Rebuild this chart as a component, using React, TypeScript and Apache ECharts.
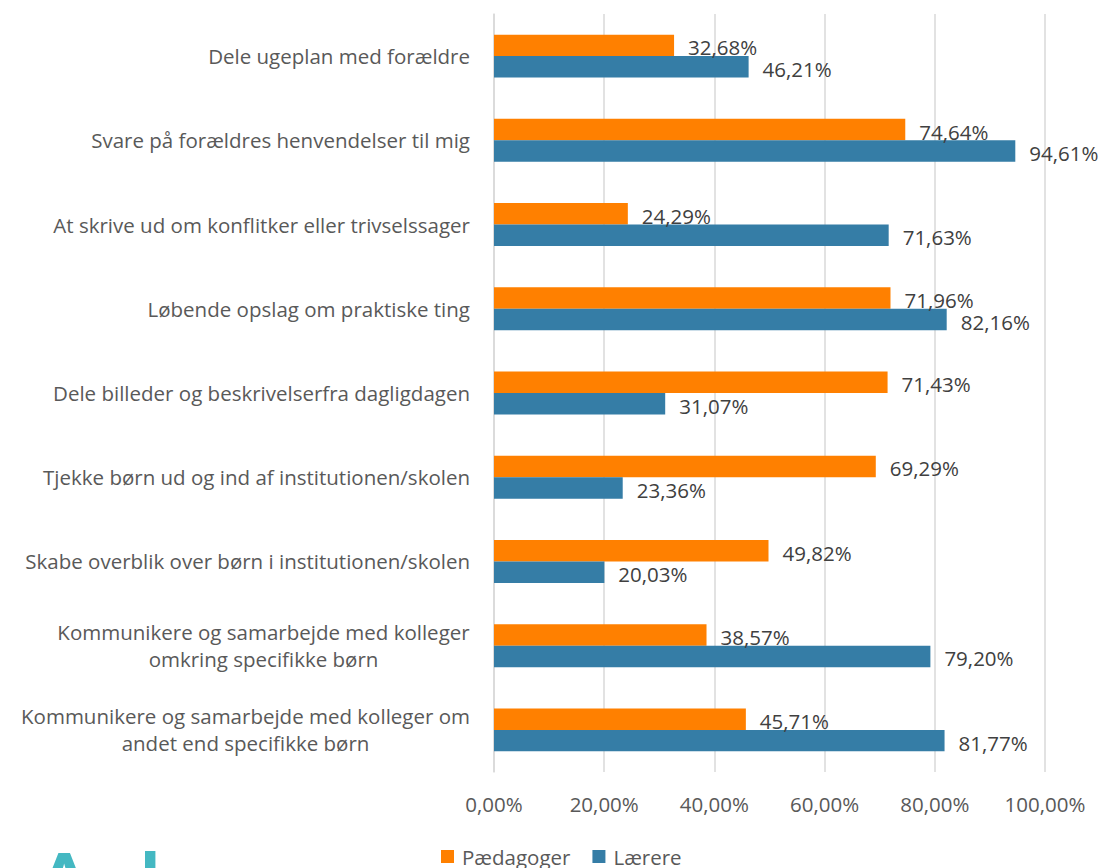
import React, { useEffect, useRef } from "react";
import * as echarts from "echarts";

const categories: string[] = [
  "Dele ugeplan med forældre",
  "Svare på forældres henvendelser til mig",
  "At skrive ud om konflitker eller trivselssager",
  "Løbende opslag om praktiske ting",
  "Dele billeder og beskrivelserfra dagligdagen",
  "Tjekke børn ud og ind af institutionen/skolen",
  "Skabe overblik over børn i institutionen/skolen",
  "Kommunikere og samarbejde med kolleger\nomkring specifikke børn",
  "Kommunikere og samarbejde med kolleger om\nandet end specifikke børn",
];
const paedagoger: number[] = [32.68, 74.64, 24.29, 71.96, 71.43, 69.29, 49.82, 38.57, 45.71];
const laerere: number[] = [46.21, 94.61, 71.63, 82.16, 31.07, 23.36, 20.03, 79.2, 81.77];
const seriesNames: string[] = ["Pædagoger", "Lærere"];

const FONT = "'Open Sans', 'Noto Sans', sans-serif";
const FS = 20.5;
const fmt = (v: number) => v.toFixed(2).replace(".", ",") + "%";

export default function App() {
  const ref = useRef<HTMLDivElement>(null);
  useEffect(() => {
    document.body.style.margin = "0";
    // measure lines so multi-line category labels are centred within their block
    const canvas = document.createElement("canvas");
    const ctx = canvas.getContext("2d")!;
    ctx.font = `${FS}px ${FONT}`;
    const rich: Record<string, any> = {};
    const labelMap: Record<string, string> = {};
    categories.forEach((c, i) => {
      const lines = c.split("\n");
      if (lines.length > 1) {
        const w = Math.ceil(Math.max(...lines.map((l) => ctx.measureText(l).width)));
        const key = "m" + i;
        rich[key] = {
          width: w,
          align: "center",
          fontSize: FS,
          lineHeight: 27,
          color: "#595959",
          fontFamily: FONT,
        };
        labelMap[c] = lines.map((l) => `{${key}|${l}}`).join("\n");
      }
    });

    const chart = echarts.init(ref.current!, null, { renderer: "svg" });
    const barLabel = {
      show: true,
      position: "right",
      distance: 14,
      offset: [0, 2],
      fontSize: FS,
      color: "#404040",
      fontFamily: FONT,
      formatter: (p: any) => fmt(p.value),
    };
    chart.setOption({
      animation: false,
      backgroundColor: "#ffffff",
      textStyle: { fontFamily: FONT },
      grid: { left: 494, right: 61, top: 14, bottom: 96, containLabel: false },
      legend: {
        left: 441,
        top: 846,
        padding: 0,
        icon: "rect",
        itemWidth: 13,
        itemHeight: 13,
        itemGap: 22,
        textStyle: { fontSize: FS, color: "#595959", fontFamily: FONT, padding: [0, 0, 0, 3] },
        data: seriesNames,
      },
      xAxis: {
        type: "value",
        min: 0,
        max: 100,
        interval: 20,
        axisLine: { show: false },
        axisTick: { show: false },
        splitLine: { show: true, lineStyle: { color: "#d9d9d9", width: 1.5 } },
        axisLabel: {
          formatter: (v: number) => fmt(v),
          fontSize: FS,
          color: "#595959",
          margin: 21,
          fontFamily: FONT,
        },
      },
      yAxis: {
        type: "category",
        inverse: true,
        data: categories,
        axisLine: { show: true, lineStyle: { color: "#d9d9d9", width: 1.5 } },
        axisTick: { show: false },
        axisLabel: {
          fontSize: FS,
          color: "#595959",
          margin: 24,
          lineHeight: 27,
          align: "right",
          fontFamily: FONT,
          formatter: (v: string) => labelMap[v] ?? v,
          rich,
        },
      },
      series: [
        {
          name: seriesNames[0],
          type: "bar",
          data: paedagoger,
          barGap: "0%",
          barCategoryGap: "49%",
          itemStyle: { color: "#FF8000" },
          label: barLabel,
        },
        {
          name: seriesNames[1],
          type: "bar",
          data: laerere,
          barGap: "0%",
          barCategoryGap: "49%",
          itemStyle: { color: "#357DA6" },
          label: barLabel,
        },
      ],
      graphic: [
        {
          type: "text",
          left: 35,
          top: 839,
          style: {
            text: "Aula",
            fontSize: 84,
            fontWeight: "bold",
            fontFamily: "Lato, 'Noto Sans', sans-serif",
            fill: "#44B8C2",
          },
        },
      ],
    });
    return () => chart.dispose();
  }, []);
  return <div ref={ref} style={{ width: 1106, height: 868 }} />;
}
